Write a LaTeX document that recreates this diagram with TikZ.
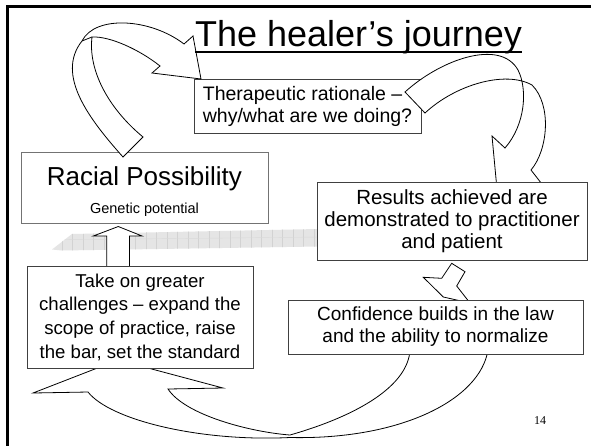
\documentclass[tikz,border=0pt]{standalone}
\usepackage{fontspec}
\setmainfont{Liberation Sans}
\newfontfamily\numfont{Liberation Serif}
\begin{document}
\begin{tikzpicture}[x=1pt,y=-1pt,
  box/.style={draw=black!75, line width=0.8pt, fill=white, inner sep=0pt, align=center},
  blockarrow/.style={draw=black, line width=0.8pt, fill=white, line join=miter},
  txt/.style={inner sep=0pt, align=center}]
\useasboundingbox (0,0) rectangle (591,445);
\fill[white] (0,0) rectangle (591,445);
% frame
\draw[line width=3pt] (7.5,446) -- (7.5,6) -- (592,6);
% shaded bar
\begin{scope}
\clip (52,249.5) -- (72,234) -- (318,229) -- (318,246.5) -- (62,250.5) -- cycle;
\fill[gray!20] (40,220) rectangle (320,255);
\foreach \x in {62,72.5,...,320} \draw[gray!35, line width=0.5pt] (\x,220) -- (\x,255);
\draw[gray!30, line width=0.4pt] (40,240) -- (320,237);
\end{scope}
% bottom curved arrow (Confidence -> Take on)
\draw[blockarrow] (410,350) .. controls (408,385) and (360,415) .. (290,435)
  .. controls (250,432) and (185,415) .. (168,389) -- (223,388) -- (118,360) -- (33,393) -- (88,392)
  .. controls (110,420) and (200,442) .. (290,437.5)
  .. controls (400,440) and (480,400) .. (488,350) -- cycle;
% small up arrow (Take on -> Racial)
\draw[blockarrow] (106.7,270) -- (106.7,236) -- (93.3,236) -- (118.3,226.5) -- (142,236) -- (129.5,236) -- (129.5,270) -- cycle;
% small arrow (Results -> Confidence)
\draw[blockarrow] (451.7,263.3) -- (465,271.7) -- (456.7,286) -- (470,303) -- (443.3,297) -- (423.3,277.3) -- (441.7,278.3) -- cycle;
% boxes
\node[box, minimum width=226pt, minimum height=102pt, font=\fontsize{18.6}{23.7}\selectfont] (take) at (140,317) {Take on greater\\challenges – expand the\\scope of practice, raise\\the bar, set the standard};
\node[box, minimum width=295pt, minimum height=54pt, font=\fontsize{19}{22}\selectfont] (conf) at (435.5,327) {Confidence builds in the law\\and the ability to normalize};
\node[box, draw=black!55, minimum width=247pt, minimum height=71pt] (racial) at (144.5,187.5) {};
\node[txt, font=\fontsize{26}{30}\selectfont, anchor=base] (racialt) at (144.5,185) {Racial Possibility};
\node[txt, font=\fontsize{14.5}{17}\selectfont, anchor=base] (racials) at (144.5,213) {Genetic potential};
\node[box, minimum width=227pt, minimum height=54pt, align=left, font=\fontsize{19.5}{22}\selectfont] (thera) at (307.5,106) {Therapeutic rationale –\\why/what are we doing?};
% top-left curved arrow (Racial -> Therapeutic)
\draw[blockarrow] (123,157) .. controls (90,120) and (55,75) .. (82,41)
  .. controls (95,15) and (150,18) .. (184,44) -- (193,36) -- (201,79) -- (152,73) -- (160,66)
  .. controls (140,50) and (110,36) .. (92,37)
  .. controls (88,70) and (108,108) .. (143,137) -- cycle;
\draw[line width=0.8pt] (82,41) -- (92,37);
% top-right curved arrow (Therapeutic -> Results)
\draw[blockarrow] (405,92) .. controls (440,60) and (500,38) .. (518,70)
  .. controls (528,90) and (525,125) .. (505,148) -- (492,136) -- (498,200) -- (545,188) -- (531,170)
  .. controls (548,150) and (552,105) .. (532,85)
  .. controls (505,70) and (455,85) .. (425,113) -- cycle;
\node[box, minimum width=270pt, minimum height=78pt, font=\fontsize{20.5}{22}\selectfont] (results) at (452,221) {Results achieved are\\demonstrated to practitioner\\and patient};
% title
\node[txt, font=\fontsize{36}{40}\selectfont, anchor=base] (title) at (358.5,46.5) {The healer’s journey};
\draw[line width=2pt] ([yshift=-5.5pt]title.base west) -- ([yshift=-5.5pt]title.base east);
\node[txt, font=\numfont\fontsize{12}{14}\selectfont] (num) at (540,421) {14};
\end{tikzpicture}
\end{document}
